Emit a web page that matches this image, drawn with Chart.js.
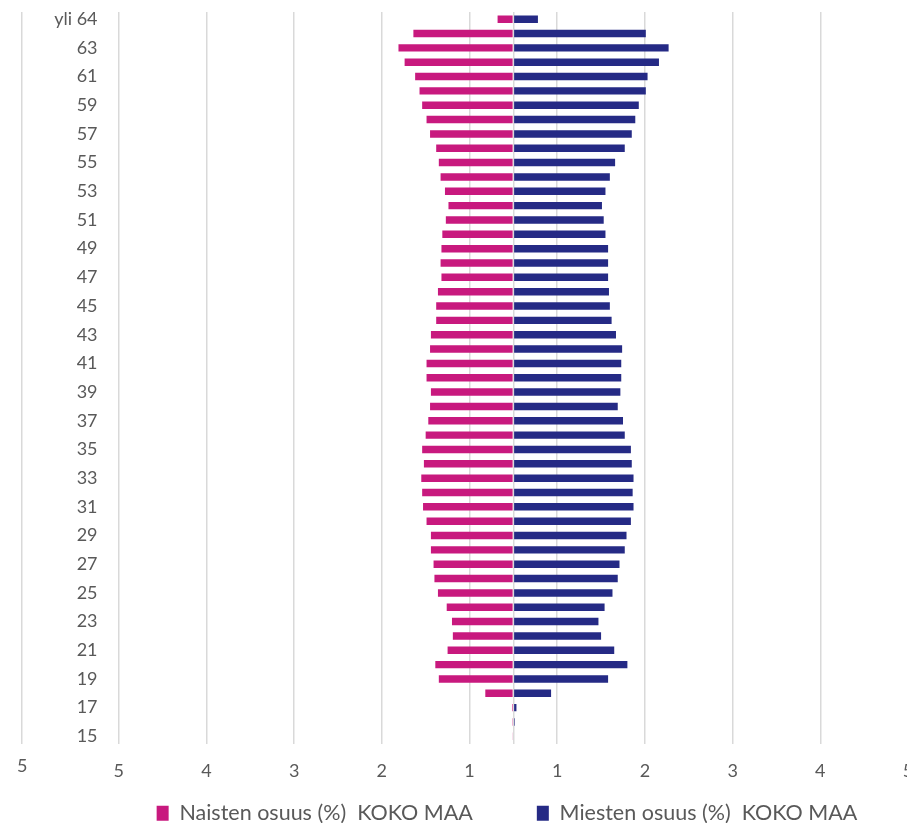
<!DOCTYPE html>
<html>
<head>
<meta charset="utf-8">
<script src="https://cdn.jsdelivr.net/npm/chart.js@4"></script>
<style>
  html, body { margin: 0; padding: 0; background: #fff; overflow: hidden; }
  #wrap { position: relative; width: 994px; height: 834px; }
</style>
</head>
<body>
<div id="wrap"><canvas id="pyramid"></canvas></div>
<script>
// age groups, top to bottom
const ageLabels = ['yli 64', '64', '63', '62', '61', '60', '59', '58', '57', '56', '55', '54', '53', '52', '51', '50',
  '49', '48', '47', '46', '45', '44', '43', '42', '41', '40', '39', '38', '37', '36', '35', '34', '33', '32', '31', '30',
  '29', '28', '27', '26', '25', '24', '23', '22', '21', '20', '19', '18', '17', '16', '15'];

const womenShare = [0.18, 1.14, 1.31, 1.24, 1.12, 1.07, 1.04, 0.99, 0.95, 0.88, 0.85, 0.83, 0.78, 0.74, 0.77, 0.81,
  0.82, 0.83, 0.82, 0.86, 0.88, 0.88, 0.94, 0.95, 0.99, 0.99, 0.94, 0.95, 0.97, 1.00, 1.04, 1.02, 1.05, 1.04, 1.03, 0.99,
  0.94, 0.94, 0.91, 0.90, 0.86, 0.76, 0.70, 0.69, 0.75, 0.89, 0.85, 0.32, 0.015, 0.005, 0.01];

const menShare = [0.28, 1.51, 1.77, 1.66, 1.53, 1.51, 1.43, 1.39, 1.35, 1.27, 1.16, 1.10, 1.05, 1.01, 1.03, 1.05,
  1.08, 1.08, 1.08, 1.09, 1.10, 1.12, 1.17, 1.24, 1.23, 1.23, 1.22, 1.19, 1.25, 1.27, 1.34, 1.35, 1.37, 1.36, 1.37, 1.34,
  1.29, 1.27, 1.21, 1.19, 1.13, 1.04, 0.97, 1.00, 1.15, 1.30, 1.08, 0.43, 0.035, 0.015, 0];

// x axis ticks as they appear in the original (women on the left side)
const axisTickValues = [-5.6, -4.5, -3.5, -2.5, -1.5, -0.5, 0, 0.5, 1.5, 2.5, 3.5, 4.5];
const axisTickLabels = ['5', '5', '4', '3', '2', '1', '', '1', '2', '3', '4', '5'];

Chart.defaults.font.family = 'Lato, "Open Sans", sans-serif';
Chart.defaults.color = '#595959';

const ctx = document.getElementById('pyramid');

new Chart(ctx, {
  type: 'bar',
  data: {
    labels: ageLabels,
    datasets: [{
      label: 'Naisten osuus (%)  KOKO MAA',
      data: womenShare.map((v) => -v),
      backgroundColor: '#C8197E',
      borderWidth: 0,
      barPercentage: 0.52,
      categoryPercentage: 1
    }, {
      label: 'Miesten osuus (%)  KOKO MAA',
      data: menShare,
      backgroundColor: '#252A85',
      borderWidth: 0,
      barPercentage: 0.52,
      categoryPercentage: 1
    }]
  },
  options: {
    indexAxis: 'y',
    responsive: true,
    maintainAspectRatio: false,
    animation: false,
    layout: {
      padding: { left: 20, top: 12, right: 0, bottom: 0 }
    },
    scales: {
      x: {
        stacked: true,
        min: -5.6,
        max: 5.48,
        afterBuildTicks: (scale) => {
          scale.ticks = axisTickValues.map((v) => ({ value: v }));
        },
        afterFit: (scale) => { scale.height = 39; },
        grid: { color: '#d9d9d9', lineWidth: 1.5, drawTicks: false },
        border: { display: false },
        ticks: {
          padding: 17,
          font: (c) => c.index === 0 ? { size: 18, lineHeight: 0.65 } : { size: 18 },
          callback: (value, index) => axisTickLabels[index]
        }
      },
      y: {
        stacked: true,
        grid: { display: false, drawTicks: false },
        border: { display: false },
        // labels are drawn inside the plot area, like in the excel original
        afterFit: (scale) => {
          scale.width = 0;
          scale.paddingTop = 0;
          scale.paddingBottom = 0;
        },
        ticks: {
          mirror: true,
          crossAlign: 'far',
          padding: 32,
          autoSkip: false,
          font: { size: 18 },
          callback: (value, index) => index % 2 === 0 ? ageLabels[index] : ''
        }
      }
    },
    plugins: {
      legend: {
        position: 'bottom',
        labels: {
          boxWidth: 12,
          boxHeight: 15,
          padding: 20,
          font: { size: 21.5 },
          generateLabels: (chart) => {
            const items = Chart.defaults.plugins.legend.labels.generateLabels(chart);
            items[0].text += '        ';
            return items;
          }
        }
      },
      tooltip: { enabled: false }
    }
  }
});
</script>
</body>
</html>
